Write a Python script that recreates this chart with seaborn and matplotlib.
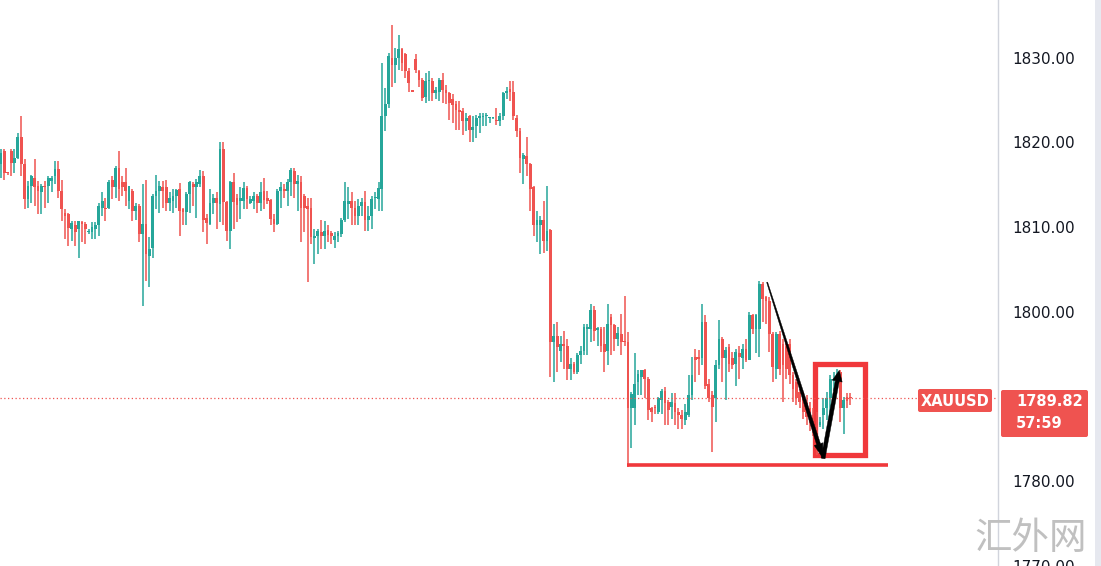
import numpy as np
import seaborn as sns
import matplotlib.pyplot as plt
from matplotlib.patches import Polygon, Rectangle, FancyBboxPatch
from matplotlib.transforms import IdentityTransform

# DATA (XAUUSD candles)

open_ = [
    1817.4, 1819.0, 1816.4, 1819.0, 1817.6, 1818.2, 1820.7, 1817.4, 1813.3, 1814.9, 1815.8, 1814.9, 1814.1,
    1814.8, 1814.9, 1815.4, 1816.0, 1816.9, 1814.3, 1811.7, 1811.5, 1809.8, 1810.2, 1809.8, 1810.6, 1810.4,
    1809.4, 1809.4, 1809.8, 1810.2, 1812.3, 1812.3, 1812.3, 1815.6, 1814.7, 1817.0, 1815.3, 1815.3, 1813.1,
    1814.3, 1811.9, 1812.5, 1809.2, 1810.4, 1806.6, 1807.6, 1813.7, 1814.3, 1814.7, 1814.7, 1812.9, 1813.1,
    1813.7, 1814.5, 1812.1, 1811.8, 1813.9, 1815.1, 1814.7, 1815.1, 1816.0, 1811.1, 1810.4, 1812.8, 1813.4,
    1812.7, 1819.2, 1813.0, 1809.6, 1815.3, 1813.4, 1813.1, 1813.1, 1814.6, 1812.9, 1813.1, 1813.7, 1812.9,
    1814.3, 1813.4, 1813.2, 1811.0, 1810.4, 1814.3, 1814.5, 1814.3, 1815.3, 1816.6, 1815.1, 1815.3, 1813.7,
    1812.5, 1812.3, 1808.7, 1809.0, 1809.4, 1809.0, 1809.7, 1809.3, 1808.5, 1809.0, 1809.2, 1810.9,
    1812.7, 1813.1, 1812.3, 1811.3, 1812.5, 1813.0, 1810.9, 1811.3, 1813.4, 1813.3, 1814.5, 1823.1, 1824.5,
    1830.0, 1829.2, 1830.0, 1831.0, 1830.4, 1828.4, 1826.1, 1829.8, 1828.4, 1827.4, 1825.4, 1827.2, 1827.2,
    1825.8, 1826.0, 1827.4, 1826.2, 1825.8, 1825.1, 1824.5, 1823.8, 1823.7, 1822.5, 1823.1, 1821.5, 1821.9,
    1822.9, 1823.0, 1823.1, 1822.9, 1822.9, 1822.7, 1822.5, 1823.1, 1825.8, 1826.3, 1826.0,
    1822.9, 1821.3, 1818.1, 1818.4, 1817.4, 1814.7, 1810.2, 1810.2, 1810.9, 1808.4, 1809.7, 1796.4, 1797.2,
    1795.4, 1796.2, 1796.0, 1793.3, 1793.8, 1792.9, 1794.9, 1795.4, 1798.0, 1798.0, 1800.2, 1797.9, 1798.0,
    1796.2, 1795.4, 1799.4, 1798.4, 1796.8, 1797.4, 1796.6, 1796.4, 1788.6, 1788.6, 1791.7, 1792.3, 1793.1,
    1792.1, 1788.6, 1788.8, 1788.2, 1789.6, 1790.7, 1789.4, 1788.8, 1789.2, 1788.2, 1787.8, 1787.2,
    1787.8, 1790.2, 1794.7, 1794.7, 1794.5, 1798.8, 1791.5, 1790.2, 1789.8, 1793.7, 1796.8, 1794.5, 1795.8,
    1794.5, 1793.9, 1795.1, 1794.5, 1795.6, 1794.3, 1799.6, 1798.0, 1798.0, 1803.3, 1801.7, 1801.3, 1797.4,
    1793.3, 1797.4, 1796.2, 1796.0, 1796.2, 1792.5, 1791.7, 1790.5, 1789.9, 1789.2, 1788.6, 1787.8, 1787.6,
    1786.6, 1787.8, 1788.6, 1789.8, 1791.9, 1791.9, 1792.9, 1788.6, 1789.9, 1789.9,
]

high = [
    1819.2, 1819.2, 1816.5, 1819.2, 1819.2, 1821.1, 1823.1, 1818.0, 1815.4, 1816.2, 1818.0, 1815.4, 1815.1,
    1815.4, 1816.0, 1816.0, 1817.8, 1817.8, 1815.6, 1812.1, 1811.7, 1810.7, 1810.7, 1810.7, 1810.7, 1810.6,
    1809.8, 1810.6, 1810.6, 1812.9, 1814.1, 1813.5, 1815.6, 1816.0, 1817.2, 1819.0, 1816.0, 1817.0, 1814.9,
    1814.5, 1812.9, 1812.7, 1815.1, 1815.6, 1808.8, 1813.9, 1816.2, 1815.4, 1815.4, 1815.6, 1814.1, 1814.5,
    1814.5, 1815.2, 1812.3, 1814.1, 1815.5, 1815.3, 1815.7, 1816.8, 1816.6, 1811.5, 1814.5, 1813.9, 1814.1,
    1820.0, 1820.0, 1813.1, 1815.5, 1816.4, 1813.9, 1814.7, 1815.3, 1814.9, 1813.7, 1814.1, 1813.9, 1815.3,
    1815.8, 1814.3, 1813.3, 1811.5, 1814.5, 1815.3, 1815.1, 1815.7, 1817.0, 1817.0, 1816.2, 1816.0, 1813.9,
    1813.5, 1813.5, 1809.8, 1809.8, 1810.9, 1810.7, 1810.2, 1809.6, 1809.4, 1809.6, 1811.1, 1815.3,
    1814.7, 1814.1, 1813.1, 1813.3, 1813.5, 1814.3, 1812.5, 1813.7, 1814.1, 1815.3, 1829.4, 1826.4, 1830.6,
    1833.9, 1831.1, 1832.7, 1831.1, 1830.6, 1828.8, 1826.1, 1830.4, 1828.6, 1827.6, 1828.2, 1828.4, 1827.6,
    1826.6, 1827.6, 1828.2, 1826.8, 1826.0, 1825.7, 1824.9, 1824.9, 1824.1, 1823.5, 1823.3, 1823.1, 1823.3,
    1823.5, 1823.5, 1823.5, 1822.9, 1823.0, 1824.1, 1823.5, 1826.0, 1826.6, 1827.2, 1827.2,
    1823.3, 1821.7, 1818.8, 1820.6, 1817.6, 1814.9, 1811.9, 1811.3, 1813.1, 1814.9, 1809.8, 1798.6, 1798.8,
    1797.2, 1797.8, 1796.8, 1794.5, 1794.1, 1795.1, 1796.0, 1798.6, 1798.6, 1800.9, 1800.7, 1798.2, 1798.2,
    1798.2, 1800.9, 1799.8, 1798.6, 1798.2, 1799.8, 1801.9, 1797.6, 1790.5, 1795.1, 1793.1, 1793.1, 1793.3,
    1792.3, 1788.8, 1789.0, 1790.0, 1790.9, 1791.1, 1789.6, 1790.4, 1790.4, 1788.6, 1788.4, 1789.1,
    1792.5, 1794.7, 1795.6, 1795.5, 1800.9, 1799.6, 1792.1, 1790.7, 1794.3, 1799.0, 1797.0, 1795.8, 1796.2,
    1795.3, 1795.6, 1796.0, 1796.2, 1796.8, 1800.0, 1799.8, 1799.8, 1803.7, 1803.5, 1801.9, 1801.7, 1797.6,
    1797.6, 1797.8, 1796.8, 1796.6, 1796.8, 1792.9, 1792.1, 1790.9, 1790.5, 1790.2, 1789.4, 1788.6, 1788.2,
    1787.6, 1789.8, 1790.5, 1792.5, 1792.9, 1793.3, 1793.1, 1790.0, 1790.4, 1790.4,
]

low = [
    1815.8, 1815.6, 1816.2, 1816.0, 1816.4, 1818.0, 1816.0, 1812.1, 1812.3, 1812.9, 1812.5, 1811.5, 1811.5,
    1812.3, 1812.9, 1814.1, 1815.1, 1813.5, 1810.7, 1808.6, 1807.8, 1808.4, 1807.8, 1806.4, 1808.2, 1808.0,
    1809.2, 1808.6, 1808.6, 1809.0, 1811.3, 1810.7, 1812.1, 1813.3, 1813.5, 1813.1, 1813.7, 1812.5, 1812.1,
    1810.7, 1810.9, 1808.2, 1800.7, 1803.7, 1802.9, 1806.4, 1812.1, 1811.7, 1812.3, 1811.9, 1811.9, 1811.7,
    1812.3, 1809.0, 1810.2, 1810.2, 1811.7, 1812.5, 1811.1, 1814.7, 1809.4, 1808.0, 1810.2, 1811.5, 1809.8,
    1810.6, 1810.2, 1808.4, 1807.4, 1809.8, 1810.6, 1811.0, 1812.1, 1812.1, 1812.7, 1812.1, 1811.7, 1811.9,
    1812.1, 1812.7, 1810.2, 1809.4, 1810.2, 1812.3, 1813.5, 1812.5, 1813.7, 1813.5, 1811.9, 1808.2, 1809.4,
    1803.5, 1808.0, 1805.7, 1806.8, 1807.4, 1807.4, 1808.2, 1808.0, 1807.6, 1808.2, 1808.8, 1810.6,
    1811.0, 1810.2, 1810.2, 1810.2, 1811.3, 1809.6, 1809.6, 1809.8, 1812.1, 1811.9, 1811.9, 1821.3, 1824.1,
    1826.6, 1827.0, 1828.6, 1828.4, 1827.6, 1826.0, 1825.9, 1828.2, 1826.6, 1824.9, 1824.7, 1824.9, 1824.9,
    1825.1, 1824.9, 1824.7, 1824.5, 1822.7, 1822.3, 1821.5, 1821.5, 1820.9, 1821.3, 1820.0, 1820.0, 1820.5,
    1821.1, 1822.0, 1821.9, 1822.3, 1822.8, 1822.1, 1821.9, 1822.7, 1825.1, 1824.9, 1822.7,
    1820.6, 1816.4, 1815.1, 1816.0, 1811.9, 1809.0, 1808.2, 1806.8, 1807.0, 1807.2, 1792.3, 1791.7, 1792.9,
    1794.1, 1793.3, 1791.9, 1791.9, 1792.7, 1792.7, 1793.9, 1794.9, 1794.9, 1796.4, 1796.6, 1796.0, 1795.3,
    1792.9, 1793.7, 1794.9, 1795.4, 1796.0, 1794.9, 1796.0, 1781.7, 1783.9, 1786.6, 1790.2, 1790.2, 1789.8,
    1787.2, 1787.0, 1788.0, 1788.0, 1788.0, 1786.6, 1786.6, 1787.4, 1786.6, 1786.2, 1786.2, 1786.6,
    1787.6, 1789.6, 1791.7, 1792.5, 1793.7, 1790.9, 1789.4, 1783.5, 1787.0, 1793.3, 1791.7, 1789.6, 1792.9,
    1793.3, 1791.3, 1792.1, 1793.3, 1794.1, 1794.3, 1797.4, 1795.1, 1794.7, 1798.8, 1798.6, 1795.3, 1791.7,
    1792.1, 1792.5, 1789.4, 1792.1, 1791.5, 1789.4, 1789.0, 1788.6, 1787.4, 1786.6, 1785.9, 1785.4, 1783.1,
    1786.4, 1786.2, 1787.2, 1787.8, 1790.7, 1790.9, 1787.0, 1785.6, 1788.6, 1789.0,
]

close = [
    1818.8, 1816.4, 1816.35, 1817.6, 1818.2, 1820.7, 1817.4, 1813.3, 1814.9, 1816.0, 1814.7, 1814.3, 1814.9,
    1814.7, 1815.8, 1815.8, 1816.9, 1814.3, 1812.1, 1811.3, 1809.9, 1810.5, 1809.4, 1810.7, 1810.4, 1809.8,
    1809.6, 1810.0, 1810.2, 1812.5, 1813.1, 1812.1, 1815.3, 1814.7, 1817.0, 1814.5, 1814.7, 1814.3, 1814.9,
    1811.9, 1812.5, 1809.2, 1810.4, 1806.8, 1807.4, 1813.7, 1814.3, 1814.9, 1814.3, 1812.9, 1813.5, 1813.7,
    1814.35, 1811.9, 1811.8, 1813.9, 1815.3, 1814.8, 1815.3, 1816.0, 1810.8, 1810.5, 1812.8, 1813.4, 1812.8,
    1819.2, 1813.0, 1809.6, 1815.3, 1813.0, 1812.6, 1813.4, 1814.6, 1813.3, 1813.3, 1813.7, 1812.9, 1814.2,
    1813.2, 1813.1, 1811.0, 1810.4, 1814.3, 1814.7, 1814.3, 1815.3, 1816.8, 1815.1, 1815.5, 1812.3, 1812.3,
    1812.1, 1808.8, 1809.0, 1809.6, 1809.0, 1809.6, 1809.1, 1808.9, 1809.0, 1809.3, 1810.9, 1813.1,
    1813.1, 1812.3, 1811.3, 1812.5, 1813.0, 1810.9, 1811.3, 1813.3, 1813.5, 1814.6, 1823.1, 1824.5, 1830.2,
    1829.2, 1830.0, 1831.0, 1829.4, 1828.4, 1827.0, 1826.0, 1828.6, 1827.4, 1825.3, 1827.2, 1827.4, 1825.8,
    1826.2, 1827.4, 1826.2, 1825.8, 1824.7, 1824.4, 1823.8, 1823.6, 1822.5, 1822.9, 1821.5, 1821.8, 1822.9,
    1823.1, 1823.1, 1823.1, 1822.9, 1822.9, 1822.5, 1823.1, 1825.8, 1826.1, 1826.0, 1823.1,
    1821.3, 1818.2, 1818.5, 1817.4, 1814.5, 1810.2, 1810.9, 1810.9, 1808.4, 1809.6, 1796.4, 1797.2, 1795.8,
    1796.2, 1796.0, 1793.3, 1793.8, 1792.9, 1794.9, 1795.4, 1798.2, 1798.2, 1800.2, 1797.8, 1798.0, 1796.0,
    1795.3, 1798.6, 1798.5, 1796.8, 1797.5, 1796.4, 1796.4, 1788.6, 1790.3, 1791.5, 1792.7, 1793.1, 1792.1,
    1788.4, 1788.2, 1788.6, 1789.8, 1790.7, 1789.2, 1788.4, 1789.4, 1788.2, 1787.8, 1787.3, 1788.2,
    1790.2, 1792.5, 1794.3, 1794.4, 1798.8, 1791.3, 1789.8, 1788.8, 1793.7, 1796.8, 1794.5, 1795.5, 1793.9,
    1793.7, 1795.3, 1794.7, 1795.6, 1794.3, 1799.6, 1798.0, 1799.6, 1803.3, 1801.5, 1801.3, 1797.4, 1793.5,
    1797.4, 1793.3, 1793.7, 1793.3, 1792.5, 1790.9, 1789.8, 1789.4, 1788.2, 1787.6, 1787.2, 1786.6, 1785.4,
    1787.0, 1788.6, 1789.8, 1792.1, 1792.1, 1792.7, 1788.6, 1789.6, 1789.5, 1789.82,
]

price_ticks = [1770, 1780, 1800, 1810, 1820, 1830]
symbol = "XAUUSD"
last_price = 1789.82
countdown = "57:59"
watermark = "汇外网"

# drawings on the chart (bar index, price)
support_line = [(185.8, 263.2), 1781.9]
move_down = [(227.3, 1803.5), (243.9, 1782.7)]
move_up = [(243.9, 1782.7), (248.7, 1793.1)]
box = [(241.4, 256.4), (1783.1, 1793.9)]

UP = "#26a69a"
DOWN = "#ef5350"
MARK = "#f0383b"

# FIGURE

sns.set_style("white")
plt.rcParams["font.family"] = ["DejaVu Sans"]

W, H = 1101, 566
fig = plt.figure(figsize=(W / 100, H / 100), dpi=100)
fig.patch.set_facecolor("white")
ax = fig.add_axes([0, 0, 998 / W, 1])

o = np.array(open_)
c = np.array(close)
hi = np.array(high)
lo = np.array(low)
x = np.arange(len(o))
cols = np.where(c >= o, UP, DOWN)

ax.vlines(x, lo, hi, colors=cols, linewidth=1.1)
ax.bar(
    x,
    np.maximum(np.abs(c - o), 0.15),
    bottom=np.minimum(o, c),
    width=0.82,
    color=cols,
    linewidth=0
)

ax.set_xlim(-0.3, 295.8)
ax.set_ylim(1770.24, 1836.82)

# last price dotted line
ax.axhline(last_price, color=DOWN, linestyle=(0, (1, 2)), linewidth=0.9)

# support line
ax.plot(support_line[0], [support_line[1]] * 2, color=MARK, linewidth=2.6,
        solid_capstyle="butt")

# red box
ax.add_patch(Rectangle(
    (box[0][0], box[1][0]),
    box[0][1] - box[0][0],
    box[1][1] - box[1][0],
    fill=False,
    edgecolor=MARK,
    linewidth=3.8
))

# axis style
sns.despine(ax=ax, left=True, bottom=True, top=True, right=False)
ax.spines["right"].set_color("#d1d4dc")
ax.spines["right"].set_linewidth(1)
ax.set_xticks([])
ax.yaxis.tick_right()
ax.set_yticks(price_ticks)
ax.set_yticklabels([f"{p:.2f}" for p in price_ticks])
ax.tick_params(axis="y", length=0, pad=10, labelsize=11, labelcolor="#131722")
ax.grid(False)


def arrow(p0, p1, w0, w1, head_w, head_l):
    T = ax.transData
    a = T.transform(p0)
    b = T.transform(p1)
    d = b - a
    u = d / np.hypot(*d)
    n = np.array([-u[1], u[0]])
    base = b - u * head_l
    pts = [
        a + n * w0 / 2,
        base + n * w1 / 2,
        base + n * head_w / 2,
        b,
        base - n * head_w / 2,
        base - n * w1 / 2,
        a - n * w0 / 2,
    ]
    fig.patches.append(Polygon(pts, closed=True, transform=IdentityTransform(),
                               facecolor="black", edgecolor="black", linewidth=0.3,
                               figure=fig, zorder=2))


arrow(move_down[0], move_down[1], 1.0, 4.0, 9, 15)
arrow(move_up[0], move_up[1], 4.0, 4.0, 10, 11)

# symbol label
fig.patches.append(FancyBboxPatch(
    (918, H - 412), 74, 23,
    boxstyle="round,pad=0,rounding_size=2",
    transform=IdentityTransform(), facecolor="#ef5350", edgecolor="none",
    figure=fig, zorder=3
))
fig.text(955 / W, (H - 401) / H, symbol, color="white", fontsize=10.5,
         fontweight="bold", ha="center", va="center", zorder=4)

# price tag
fig.patches.append(FancyBboxPatch(
    (1001, H - 437), 87, 47,
    boxstyle="round,pad=0,rounding_size=2",
    transform=IdentityTransform(), facecolor="#ef5350", edgecolor="none",
    figure=fig, zorder=3
))
fig.text(1016 / W, (H - 401) / H, f"{last_price:.2f}", color="white", fontsize=10.5,
         fontweight="bold", ha="left", va="center", zorder=4)
fig.text(1016 / W, (H - 423) / H, countdown, color="white", fontsize=10.5,
         fontweight="bold", ha="left", va="center", zorder=4)

# right strip
fig.patches.append(Rectangle((1095 / W, 0), 6 / W, 1, transform=fig.transFigure,
                             facecolor="#e6e8ef", edgecolor="none", zorder=1))

# watermark
fig.text(1031 / W, (H - 538) / H, watermark, color="#c0c0c0", fontsize=27,
         family=["Noto Sans CJK SC", "DejaVu Sans"], fontweight="light",
         ha="center", va="center", zorder=4)

fig.savefig("out.png", dpi=100, facecolor="white")
plt.close(fig)
